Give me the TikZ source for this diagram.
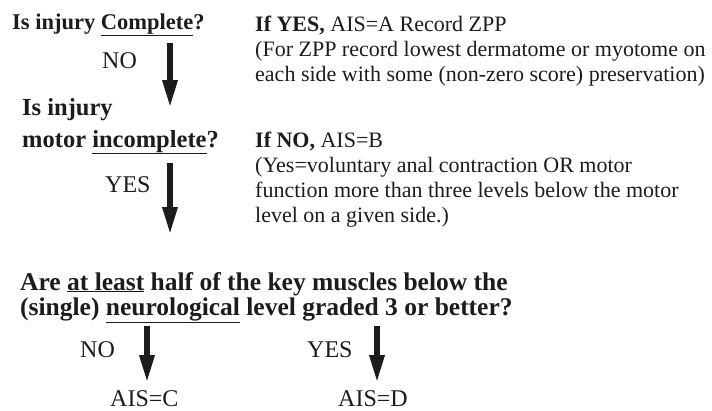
\documentclass[tikz,border=0pt]{standalone}
\usepackage{fontspec}
\setmainfont{Liberation Serif}
\usetikzlibrary{arrows.meta, positioning}
\definecolor{inkblack}{RGB}{28, 28, 28}
\tikzstyle{question} = [font=\fontsize{24.5}{32}\selectfont\bfseries, anchor=base west,
                        inner sep=0pt, align=left, text=inkblack]
\tikzstyle{answer} = [font=\fontsize{24}{28}\selectfont, anchor=base west, inner sep=0pt, text=inkblack]
\tikzstyle{note} = [font=\fontsize{22}{25}\selectfont, anchor=base west, inner sep=0pt,
                    align=left, text=inkblack]
\tikzstyle{arrow} = [-{Triangle[length=28pt, width=14pt]}, line width=6pt, inkblack]

\begin{document}
\begin{tikzpicture}[x=1pt, y=-1pt]
\useasboundingbox (0, 0) rectangle (712, 410);

% Step 1: complete?
\node[question, font=\fontsize{22.5}{28}\selectfont\bfseries] (qcomplete) at (12, 29) {Is injury \underline{Complete}?};
\node[answer] (nocomplete) at (102, 68) {NO};
\node[note] (ais_a) at (255, 81) {%
    \textbf{If YES,} AIS=A Record ZPP\\
    (For ZPP record lowest dermatome or myotome on\\
    each side with some (non-zero score) preservation)};

% Step 2: motor incomplete?
\node[question] (qmotor) at (22, 147) {Is injury\\motor \underline{incomplete}?};
\node[answer] (yesmotor) at (105, 192) {YES};
\node[note] (ais_b) at (255, 222) {%
    \textbf{If NO,} AIS=B\\
    (Yes=voluntary anal contraction OR motor\\
    function more than three levels below the motor\\
    level on a given side.)};

% Step 3: key muscles
\node[question, font=\fontsize{25.5}{25}\selectfont\bfseries] (qmuscles) at (20, 315) {%
    Are \underline{at least} half of the key muscles below the\\
    (single) \underline{neurological} level graded 3 or better?};
\node[answer] (nomuscles) at (80, 357) {NO};
\node[answer] (yesmuscles) at (307, 357) {YES};
\node[answer] (ais_c) at (110, 406) {AIS=C};
\node[answer] (ais_d) at (338, 406) {AIS=D};

% Arrow ends
\coordinate (s1) at (170, 43);  \coordinate (e1) at (170, 108);
\coordinate (s2) at (170, 163); \coordinate (e2) at (170, 235);
\coordinate (s3) at (147, 326); \coordinate (e3) at (147, 383);
\coordinate (s4) at (377, 326); \coordinate (e4) at (377, 383);

% Arrows
\draw[arrow] (s1) -- (e1);
\draw[arrow] (s2) -- (e2);
\draw[arrow] (s3) -- (e3);
\draw[arrow] (s4) -- (e4);

\end{tikzpicture}
\end{document}
